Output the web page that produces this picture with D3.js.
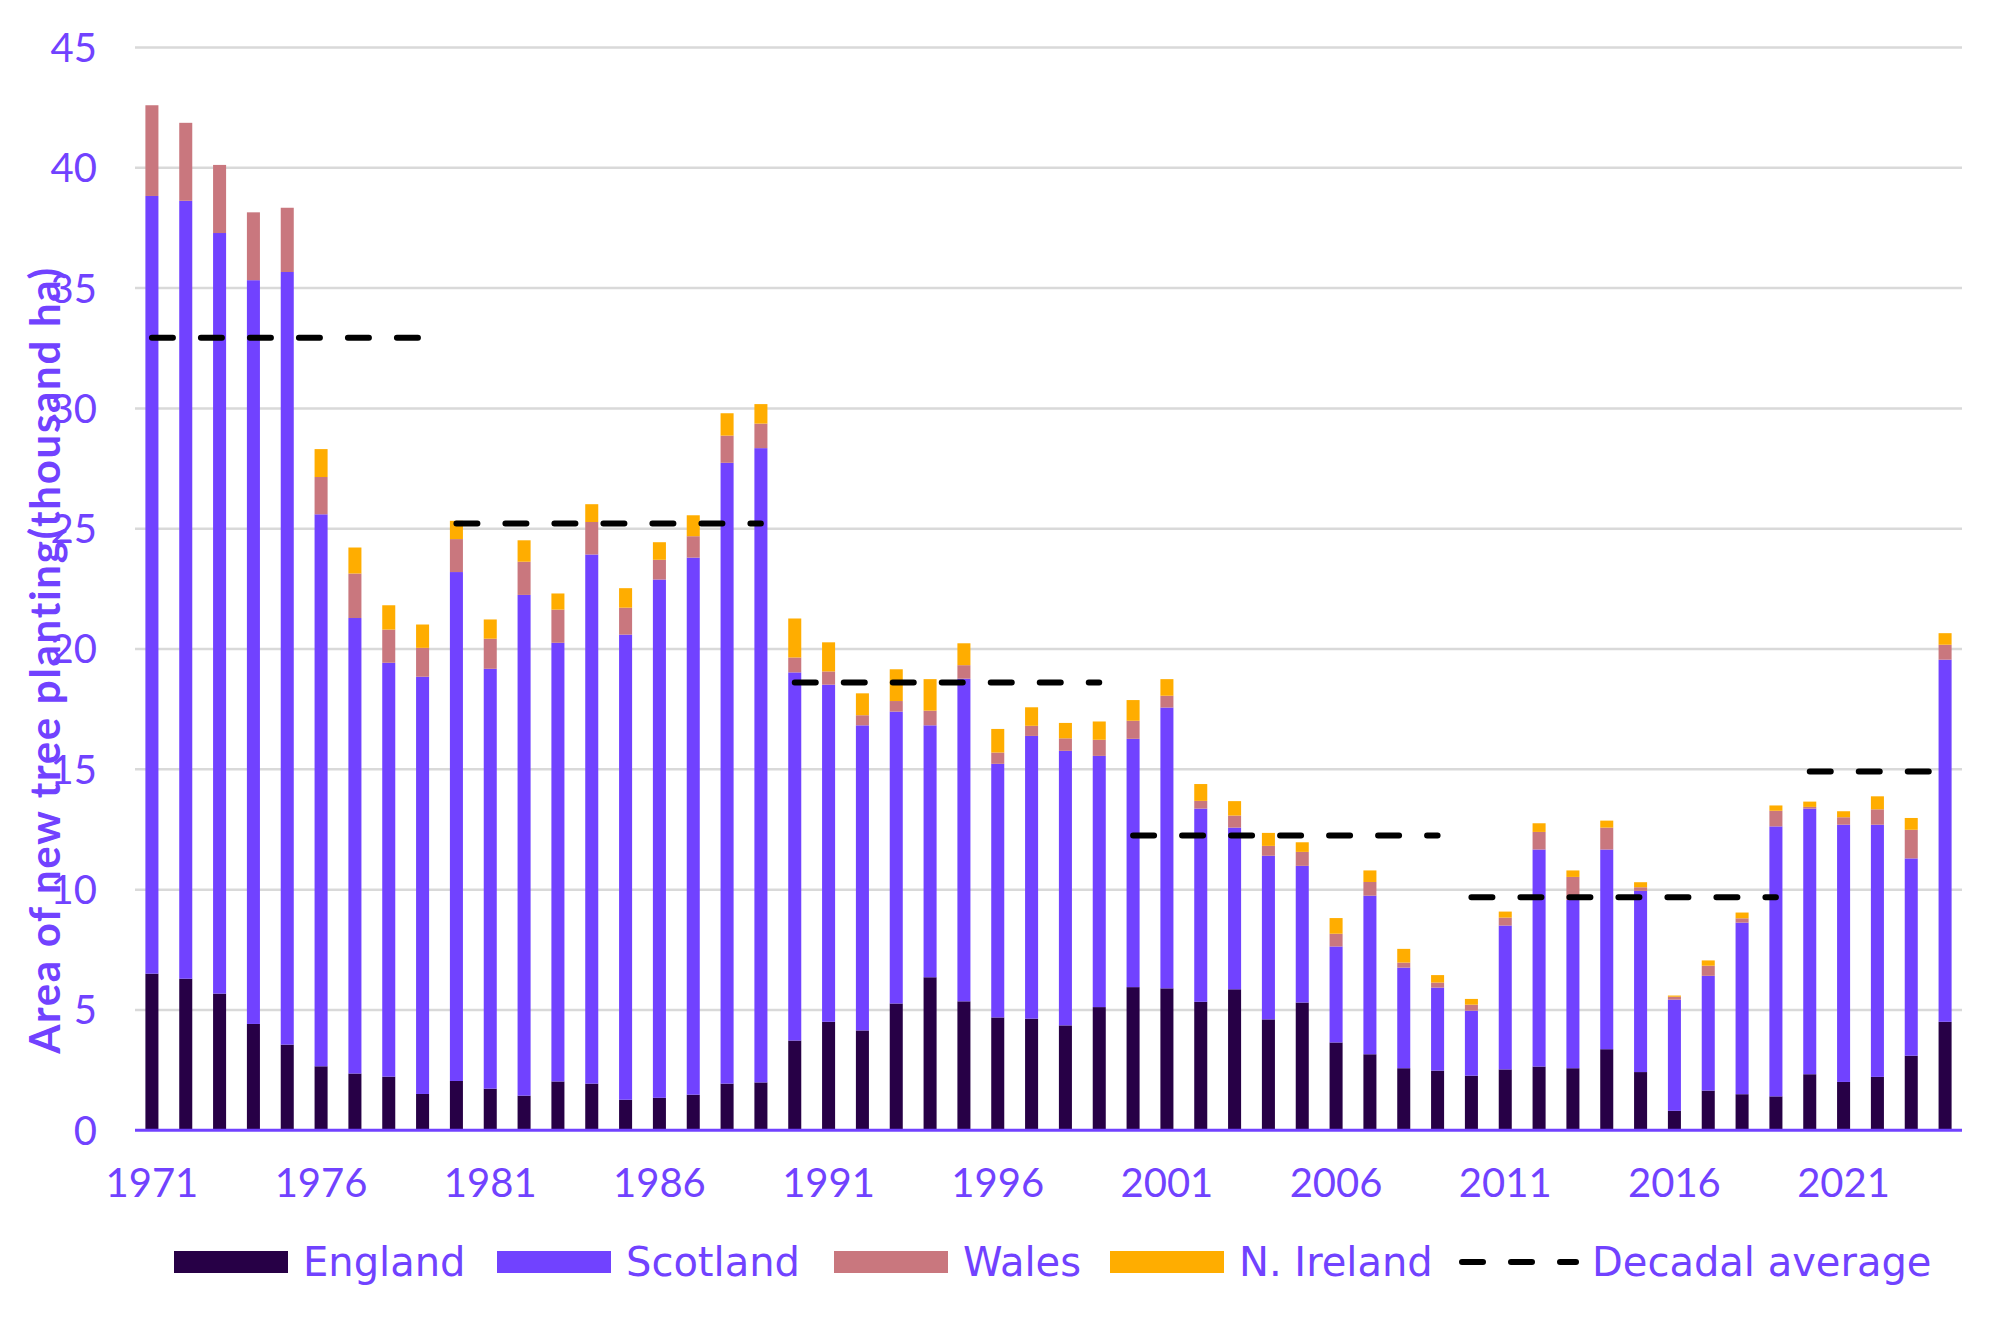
<!DOCTYPE html>
<html>
<head>
<meta charset="utf-8">
<script src="https://cdn.jsdelivr.net/npm/d3@7"></script>
<style>
  body { margin: 0; background: #fff; }
  text { font-family: Lato, "Liberation Sans", sans-serif; }
  .legend text { font-family: "DejaVu Sans", sans-serif; }
</style>
</head>
<body>
<svg id="chart" width="2014" height="1331"></svg>
<script>
var years = d3.range(1971, 2025);

var england = [6.51, 6.30, 5.68, 4.42, 3.56, 2.66, 2.36, 2.23, 1.51, 2.05,
  1.73, 1.44, 2.03, 1.94, 1.27, 1.35, 1.48, 1.94, 1.99, 3.73,
  4.51, 4.15, 5.27, 6.36, 5.36, 4.69, 4.64, 4.36, 5.12, 5.95,
  5.90, 5.34, 5.86, 4.61, 5.31, 3.65, 3.16, 2.58, 2.48, 2.27,
  2.53, 2.65, 2.58, 3.37, 2.42, 0.81, 1.65, 1.50, 1.41, 2.33,
  2.01, 2.22, 3.10, 4.51];
var scotland = [32.32, 32.33, 31.61, 30.91, 32.11, 22.94, 18.93, 17.20, 17.34, 21.15,
  17.45, 20.81, 18.23, 21.99, 19.33, 21.54, 22.32, 25.80, 26.36, 15.30,
  14.01, 12.68, 12.13, 10.47, 13.41, 10.54, 11.75, 11.41, 10.44, 10.32,
  11.67, 8.03, 6.72, 6.80, 5.68, 3.99, 6.59, 4.18, 3.45, 2.70,
  5.98, 9.02, 6.99, 8.30, 7.53, 4.62, 4.77, 7.13, 11.22, 11.04,
  10.69, 10.48, 8.20, 15.05];
var wales = [3.77, 3.24, 2.83, 2.82, 2.67, 1.55, 1.85, 1.38, 1.20, 1.37,
  1.25, 1.38, 1.38, 1.35, 1.12, 0.82, 0.89, 1.13, 1.02, 0.62,
  0.55, 0.42, 0.44, 0.61, 0.56, 0.47, 0.42, 0.52, 0.67, 0.75,
  0.49, 0.32, 0.50, 0.41, 0.58, 0.53, 0.57, 0.21, 0.21, 0.25,
  0.33, 0.73, 0.96, 0.91, 0.15, 0.12, 0.42, 0.18, 0.65, 0.07,
  0.31, 0.64, 1.19, 0.62];
var nIreland = [0, 0, 0, 0, 0, 1.16, 1.08, 1.01, 0.97, 0.76,
  0.80, 0.89, 0.67, 0.74, 0.81, 0.73, 0.87, 0.93, 0.81, 1.62,
  1.21, 0.91, 1.32, 1.31, 0.91, 0.98, 0.77, 0.64, 0.76, 0.86,
  0.69, 0.70, 0.60, 0.54, 0.40, 0.65, 0.48, 0.57, 0.31, 0.24,
  0.25, 0.36, 0.27, 0.29, 0.21, 0.05, 0.22, 0.24, 0.22, 0.22,
  0.25, 0.54, 0.49, 0.48];

// decadal averages, drawn from first to last year of each decade
var decadeStart = [1971, 1980, 1990, 2000, 2010, 2020];
var decadeEnd = [1979, 1989, 1999, 2009, 2019, 2024];
var decadeAvg = [32.94, 25.22, 18.61, 12.25, 9.69, 14.91];

var seriesNames = ["England", "Scotland", "Wales", "N. Ireland"];
var seriesColors = ["#270046", "#7142ff", "#c9777e", "#ffad00"];
var yTicks = [0, 5, 10, 15, 20, 25, 30, 35, 40, 45];
var xTickYears = [1971, 1976, 1981, 1986, 1991, 1996, 2001, 2006, 2011, 2016, 2021];

var textColor = "#7142ff";

var svg = d3.select("#chart"),
  margin = {top: 47.5, right: 52, bottom: 200.7, left: 135},
  width = +svg.attr("width") - margin.left - margin.right,
  height = +svg.attr("height") - margin.top - margin.bottom,
  g = svg.append("g").attr("transform", "translate(" + margin.left + "," + margin.top + ")");

var table = years.map(function(yr, i) {
  return {year: yr, "England": england[i], "Scotland": scotland[i], "Wales": wales[i], "N. Ireland": nIreland[i]};
});

var x = d3.scaleBand()
  .domain(years)
  .range([0, width])
  .paddingInner(0.615)
  .paddingOuter(0.3075);

var y = d3.scaleLinear()
  .domain([0, 45])
  .range([height, 0]);

var color = d3.scaleOrdinal().domain(seriesNames).range(seriesColors);

// gridlines
g.append("g")
  .selectAll("line")
  .data(yTicks.slice(1))
  .enter().append("line")
  .attr("x1", 0)
  .attr("x2", width)
  .attr("y1", function(d) { return y(d); })
  .attr("y2", function(d) { return y(d); })
  .style("stroke", "#d9d9d9")
  .style("stroke-width", 2.5);

// y tick labels
g.append("g")
  .selectAll("text")
  .data(yTicks)
  .enter().append("text")
  .attr("x", -38)
  .attr("y", function(d) { return y(d); })
  .attr("dy", "0.36em")
  .attr("text-anchor", "end")
  .style("font-size", "40px")
  .style("fill", textColor)
  .text(function(d) { return d; });

var stack = d3.stack().keys(seriesNames);

g.append("g")
  .selectAll("g")
  .data(stack(table))
  .enter().append("g")
  .style("fill", function(d) { return color(d.key); })
  .selectAll("rect")
  .data(function(d) { return d; })
  .enter().append("rect")
  .attr("x", function(d) { return x(d.data.year); })
  .attr("width", x.bandwidth())
  .attr("y", function(d) { return y(d[1]); })
  .attr("height", function(d) { return y(d[0]) - y(d[1]); });

// x axis line
g.append("line")
  .attr("x1", 0)
  .attr("x2", width)
  .attr("y1", y(0))
  .attr("y2", y(0))
  .style("stroke", textColor)
  .style("stroke-width", 3);

g.append("g")
  .selectAll("text")
  .data(xTickYears)
  .enter().append("text")
  .attr("x", function(d) { return x(d) + x.bandwidth() / 2; })
  .attr("y", y(0) + 67)
  .attr("text-anchor", "middle")
  .style("font-size", "40px")
  .style("fill", textColor)
  .text(function(d) { return d; });

// decadal average dashes
g.append("g")
  .selectAll("line")
  .data(decadeAvg)
  .enter().append("line")
  .attr("x1", function(d, i) { return x(decadeStart[i]) + x.bandwidth() / 2; })
  .attr("x2", function(d, i) { return x(decadeEnd[i]) + x.bandwidth() / 2; })
  .attr("y1", function(d) { return y(d); })
  .attr("y2", function(d) { return y(d); })
  .style("stroke", "#000")
  .style("stroke-width", 6)
  .style("stroke-linecap", "round")
  .style("stroke-dasharray", "21,28");

// y axis title
svg.append("text")
  .attr("transform", "translate(60,660) rotate(-90)")
  .attr("text-anchor", "middle")
  .style("font-size", "42px")
  .style("font-weight", "bold")
  .style("letter-spacing", "1.7px")
  .style("fill", textColor)
  .text("Area of new tree planting(thousand ha)");

// legend
var legendItems = [
  {name: "England", x: 174},
  {name: "Scotland", x: 497},
  {name: "Wales", x: 834},
  {name: "N. Ireland", x: 1110}
];

var legend = svg.append("g").attr("class", "legend");

legend.selectAll("rect")
  .data(legendItems)
  .enter().append("rect")
  .attr("x", function(d) { return d.x; })
  .attr("y", 1251)
  .attr("width", 114)
  .attr("height", 22)
  .style("fill", function(d) { return color(d.name); });

legend.selectAll("text.item")
  .data(legendItems)
  .enter().append("text")
  .attr("class", "item")
  .attr("x", function(d) { return d.x + 129; })
  .attr("y", 1276)
  .style("font-size", "40px")
  .style("fill", textColor)
  .text(function(d) { return d.name; });

legend.append("line")
  .attr("x1", 1462)
  .attr("x2", 1576)
  .attr("y1", 1262)
  .attr("y2", 1262)
  .style("stroke", "#000")
  .style("stroke-width", 6)
  .style("stroke-linecap", "round")
  .style("stroke-dasharray", "21,28");

legend.append("text")
  .attr("x", 1592)
  .attr("y", 1276)
  .style("font-size", "40px")
  .style("fill", textColor)
  .text("Decadal average");
</script>
</body>
</html>
